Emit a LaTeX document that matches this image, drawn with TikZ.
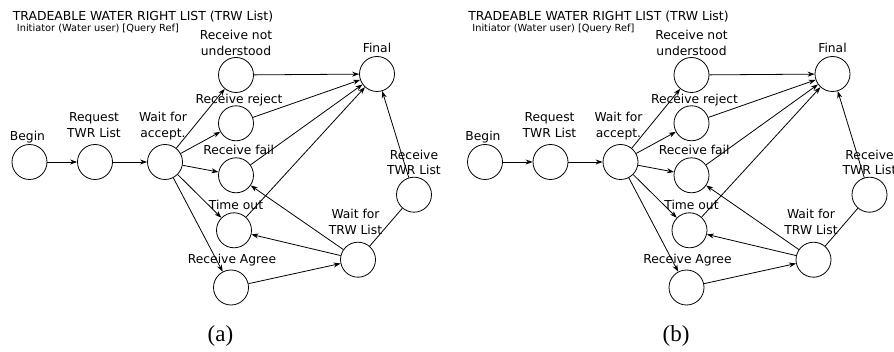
\documentclass[tikz,border=0pt]{standalone}
\usepackage{fontspec}
\setmainfont{Liberation Serif}
\newfontfamily\diagfont{DejaVu Sans}
\usetikzlibrary{arrows.meta}
\begin{document}
\begin{tikzpicture}[x=1pt,y=-1pt,
  state/.style={draw, circle, minimum size=35pt, inner sep=0pt, line width=0.8pt},
  lbl/.style={font=\diagfont\fontsize{12.3}{15.5}\selectfont, align=center, anchor=base, inner sep=0pt},
  titletext/.style={font=\diagfont\fontsize{12.4}{15}\selectfont, anchor=base west, inner sep=0pt},
  subtext/.style={font=\diagfont\fontsize{9.8}{12}\selectfont, anchor=base west, inner sep=0pt},
  captext/.style={font=\fontsize{23}{26}\selectfont, inner sep=0pt},
  conn/.style={line width=0.8pt, -{Stealth[length=7pt,width=5pt]}},
  plainconn/.style={line width=0.8pt}]
\useasboundingbox (0,0) rectangle (894,352);
\clip (0,0) rectangle (894,352);
\foreach \p/\dx in {a/0, b/455.5} {
  \begin{scope}[shift={(\dx,0)}]
    % headings
    \node[titletext] (\p-title) at (12.7,20.7) {TRADEABLE WATER RIGHT LIST (TRW List)};
    \node[subtext] (\p-sub) at (16.7,31.5) {Initiator (Water user) [Query Ref]};
    % states
    \node[state] (\p-begin) at (29.5,162) {};
    \node[state] (\p-req)   at (95,162) {};
    \node[state] (\p-wacc)  at (165,162) {};
    \node[state] (\p-rnu)   at (236,75) {};
    \node[state] (\p-final) at (377,74) {};
    \node[state] (\p-rej)   at (236,123.3) {};
    \node[state] (\p-fail)  at (236,175.3) {};
    \node[state] (\p-tout)  at (234,230.3) {};
    \node[state] (\p-agree) at (231,287.5) {};
    \node[state] (\p-wtrw)  at (358,259.7) {};
    \node[state] (\p-rtwr)  at (414,194.7) {};
    % state names (base = baseline of the last line)
    \node[lbl] (\p-lbegin) at (27.5,141) {Begin};
    \node[lbl] (\p-lreq)   at (94,137.2) {Request\\TWR List};
    \node[lbl] (\p-lwacc)  at (163,137.2) {Wait for\\accept.};
    \node[lbl] (\p-lrnu)   at (236,55.5) {Receive not\\understood};
    \node[lbl] (\p-lfinal) at (377,52.7) {Final};
    \node[lbl] (\p-lrej)   at (239,103.3) {Receive reject};
    \node[lbl] (\p-lfail)  at (238.7,155) {Receive fail};
    \node[lbl] (\p-ltout)  at (236,210) {Time out};
    \node[lbl] (\p-lagree) at (232,264) {Receive Agree};
    \node[lbl] (\p-lwtrw)  at (355.5,234.5) {Wait for\\TRW List};
    \node[lbl] (\p-lrtwr)  at (414,174.8) {Receive\\TWR List};
    % transitions
    \draw[conn] (\p-begin) -- (\p-req);
    \draw[conn] (\p-req) -- (\p-wacc);
    \foreach \t in {rnu,rej,fail,tout,agree} \draw[conn] (\p-wacc) -- (\p-\t);
    \foreach \t in {rnu,rej,fail,tout,rtwr} \draw[conn] (\p-\t) -- (\p-final);
    \draw[conn] (\p-wtrw) -- (\p-fail);
    \draw[conn] (\p-wtrw) -- (\p-tout);
    \draw[conn] (\p-agree) -- (\p-wtrw);
    \draw[plainconn] (\p-wtrw) -- (\p-rtwr);
    % panel caption
    \node[captext] (\p-cap) at (220.5,336) {(\p)};
  \end{scope}
}
\end{tikzpicture}
\end{document}
